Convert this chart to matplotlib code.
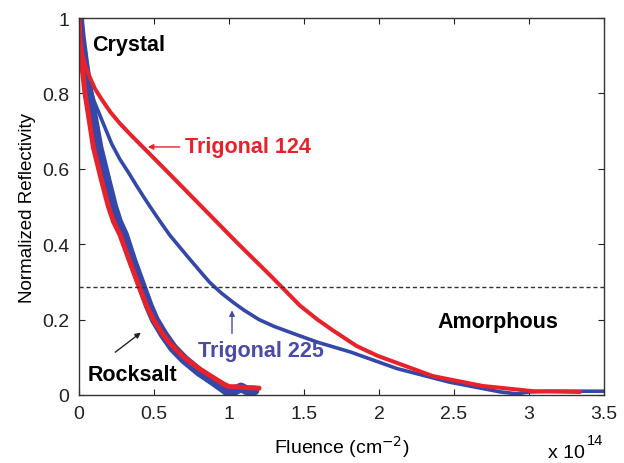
import numpy as np
import matplotlib
matplotlib.use("Agg")
import matplotlib.pyplot as plt

plt.rcParams['font.family'] = ['Liberation Sans', 'DejaVu Sans']

# fluence in units of 1e14 cm^-2, normalized reflectivity
rock_red_x = [0, 0.005, 0.018, 0.04, 0.062, 0.096, 0.151, 0.196, 0.23, 0.273, 0.34, 0.407, 0.45, 0.496, 0.56,
              0.627, 0.7, 0.8, 0.9, 0.96, 1.0, 1.05, 1.1, 1.2]
rock_red_y = [1.0, 0.95, 0.88, 0.80, 0.745, 0.657, 0.568, 0.50, 0.46, 0.425, 0.352, 0.281, 0.237, 0.20, 0.16,
              0.128, 0.10, 0.07, 0.045, 0.03, 0.022, 0.022, 0.02, 0.018]
rock_blue_x = [0, 0.012, 0.035, 0.065, 0.09, 0.13, 0.185, 0.228, 0.26, 0.30, 0.36, 0.425, 0.465, 0.505, 0.565,
               0.627, 0.7, 0.8, 0.9, 0.96, 1.0, 1.04, 1.08, 1.12, 1.17]
rock_blue_y = [1.0, 0.95, 0.88, 0.80, 0.745, 0.657, 0.568, 0.50, 0.46, 0.425, 0.352, 0.281, 0.237, 0.20, 0.16,
               0.125, 0.095, 0.062, 0.035, 0.018, 0.006, 0.012, 0.02, 0.012, 0.012]
tri225_x = [0, 0.008, 0.018, 0.04, 0.062, 0.10, 0.162, 0.218, 0.273, 0.33, 0.384, 0.44, 0.495, 0.55, 0.607,
            0.718, 0.829, 0.873, 0.95, 1.03, 1.1, 1.2, 1.3, 1.45, 1.59, 1.81, 2.12, 2.47, 2.81, 2.92, 3.0, 3.14, 3.5]
tri225_y = [1.0, 0.96, 0.93, 0.88, 0.834, 0.78, 0.72, 0.666, 0.625, 0.59, 0.555, 0.52, 0.487, 0.455, 0.423,
            0.37, 0.318, 0.298, 0.27, 0.245, 0.225, 0.2, 0.182, 0.16, 0.14, 0.114, 0.07, 0.034, 0.008, 0.003, 0.008,
            0.01, 0.01]
tri124_x = [0, 0.005, 0.02, 0.045, 0.075, 0.107, 0.15, 0.21, 0.273, 0.35, 0.44, 0.607, 0.829, 1.051, 1.273, 1.35,
            1.473, 1.59, 1.69, 1.85, 1.99, 2.12, 2.36, 2.69, 3.03, 3.34]
tri124_y = [1.0, 0.95, 0.905, 0.87, 0.84, 0.812, 0.785, 0.75, 0.72, 0.688, 0.652, 0.585, 0.495, 0.405, 0.318, 0.287,
            0.237, 0.20, 0.172, 0.13, 0.104, 0.085, 0.05, 0.024, 0.01, 0.008]
threshold = 0.286

xticks = [0, 0.5, 1, 1.5, 2, 2.5, 3, 3.5]
xticklabels = ['0', '0.5', '1', '1.5', '2', '2.5', '3', '3.5']
yticks = [0, 0.2, 0.4, 0.6, 0.8, 1]
yticklabels = ['0', '0.2', '0.4', '0.6', '0.8', '1']

red = '#e8222a'
blue = '#3348a8'
lblue = '#4a4aa8'

fig = plt.figure(figsize=(6.24, 4.64), dpi=100)
ax = fig.add_axes([0.1266, 0.1466, 0.8414, 0.8124])

kw = dict(solid_capstyle='round', solid_joinstyle='round')
ax.plot(rock_blue_x, rock_blue_y, color=blue, lw=7.0, **kw)
ax.plot(tri225_x, tri225_y, color=blue, lw=2.6, **kw)
ax.plot(rock_red_x, rock_red_y, color=red, lw=3.6, **kw)
ax.plot(tri124_x, tri124_y, color=red, lw=2.9, **kw)
ax.axhline(threshold, color='#333333', lw=1.0, ls=(0, (3, 2)))

ax.set_xlim(0, 3.5)
ax.set_ylim(0, 1)
ax.set_xticks(xticks)
ax.set_xticklabels(xticklabels)
ax.set_yticks(yticks)
ax.set_yticklabels(yticklabels)
ax.tick_params(direction='in', length=4, top=True, right=True, labelsize=14, colors='#222222', pad=7)
for s in ax.spines.values():
    s.set_color('#333333')
    s.set_linewidth(1.0)

ax.set_xlabel('Fluence (cm$^{-2}$)', fontsize=14, labelpad=8)
ax.set_ylabel('Normalized Reflectivity', fontsize=13.5, labelpad=4)
fig.text(548 / 624, 1 - 458 / 464, 'x 10', fontsize=14, ha='left', va='baseline')
fig.text(587 / 624, 1 - 445 / 464, '14', fontsize=10.5, ha='left', va='baseline')

bold = dict(fontsize=15.5, fontweight='bold')
ax.text(0.085, 0.93, 'Crystal', color='black', va='center', **bold)
ax.text(2.39, 0.196, 'Amorphous', color='black', va='center', **bold)
ax.text(0.06, 0.055, 'Rocksalt', color='black', va='center', **bold)
ax.text(0.707, 0.658, 'Trigonal 124', color=red, va='center', **bold)
ax.text(0.79, 0.117, 'Trigonal 225', color=lblue, va='center', **bold)

ax.annotate('', xy=(0.44, 0.658), xytext=(0.69, 0.658),
            arrowprops=dict(arrowstyle='-|>', color=red, lw=1.0, mutation_scale=8))
ax.annotate('', xy=(1.02, 0.232), xytext=(1.02, 0.156),
            arrowprops=dict(arrowstyle='-|>', color=lblue, lw=1.0, mutation_scale=8))
ax.annotate('', xy=(0.427, 0.17), xytext=(0.227, 0.109),
            arrowprops=dict(arrowstyle='-|>', color='#222222', lw=1.0, mutation_scale=8))

fig.savefig('out.png', dpi=100)
